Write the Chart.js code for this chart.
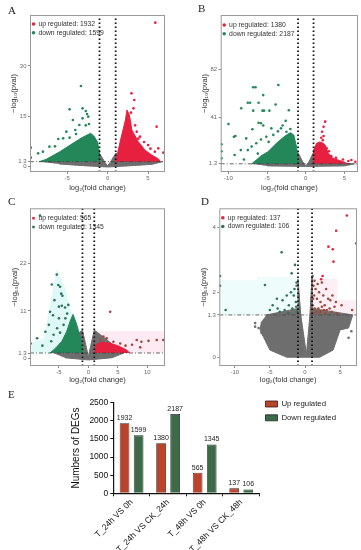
<!DOCTYPE html>
<html>
<head>
<meta charset="utf-8">
<script src="https://cdn.jsdelivr.net/npm/chart.js@4.4.0/dist/chart.umd.min.js"></script>
<style>
  body { margin: 0; background: #fff; }
  #wrap { position: relative; width: 361px; height: 550px; overflow: hidden; }
  canvas { position: absolute; }
  .tag { position: absolute; font: 11px/11px "Liberation Serif", "DejaVu Serif", serif; color: #222; }
</style>
</head>
<body>
<div id="wrap">
  <canvas id="cA" width="178" height="195" style="left:0;top:0"></canvas>
  <canvas id="cB" width="181" height="195" style="left:180px;top:0"></canvas>
  <canvas id="cC" width="178" height="195" style="left:0;top:195px"></canvas>
  <canvas id="cD" width="181" height="195" style="left:180px;top:195px"></canvas>
  <canvas id="cE" width="361" height="165" style="left:0;top:385px"></canvas>
  <div class="tag" style="left:8px;top:5px">A</div>
  <div class="tag" style="left:198px;top:3px">B</div>
  <div class="tag" style="left:8px;top:196px">C</div>
  <div class="tag" style="left:201px;top:196px">D</div>
  <div class="tag" style="left:8px;top:389px">E</div>
</div>
<script>
// counts of DEGs per comparison (A..D and panel E)
const comparisons = ['T_24h VS 0h', 'T_24h VS CK_24h', 'T_48h VS 0h', 'T_48h VS CK_48h'];
const upCounts = [1932, 1380, 565, 137];
const downCounts = [1599, 2187, 1345, 106];
const eTicks = [0, 500, 1000, 1500, 2000, 2500];

// cut-offs: |log2FC| = 1, p = 0.05
const fcCut = [-1, 1];
const pCut = 1.3;

// --- panel A [log2FC, -log10 p]
const aXTicks = [-5, 0, 5];
const aYTicks = [0, 1.3, 15, 30];
const aUpDots = [[5.9, 43], [2.95, 21.8], [3.3, 19.8], [3.2, 17.3], [2.9, 16], [6.06, 11.8], [3.6, 10.3], [4.0, 8.8],
  [3.4, 12.2], [4.5, 7.2], [5.0, 6.3], [5.85, 4.3], [6.26, 5.3], [6.9, 4], [5.3, 5.2], [4.2, 5.6], [3.8, 8.2]];
const aDownDots = [[-3.3, 24], [-4.7, 17], [-3.1, 17.3], [-2.7, 16.5], [-2.55, 15.6], [-2.4, 14.8], [-3.1, 14.3], [-4.3, 13.8],
  [-3.5, 12.3], [-2.7, 12.2], [-2.3, 12.6], [-5.1, 10.3], [-6.1, 8.1], [-5.5, 8.3], [-7.2, 5.8], [-6.5, 5.9], [-8.6, 3.8],
  [-8.0, 4.3], [-9.5, 5.5], [-9.5, 2.5], [-4.0, 10.8], [-4.7, 8.5], [-3.9, 9.6]];
const aUpCloud = [[1.0, 1.3], [1.06, 2], [1.6, 7.8], [2.2, 13.8], [2.4, 16.8], [2.7, 15.3], [3.0, 10.8], [3.8, 7.3],
  [4.6, 4.8], [5.45, 3.3], [6.3, 2.1], [6.5, 1.3]];
const aDownCloud = [[-8.4, 1.3], [-7.6, 2.0], [-5.9, 4.3], [-4.3, 6.8], [-3.1, 8.6], [-2.1, 9.8], [-1.7, 9], [-1.26, 7.3],
  [-1.06, 4.8], [-1.0, 1.3]];
const aGrayCloud = [[-8.5, 1.3], [-1.0, 3.8], [-0.3, 1.0], [0, 0.1], [0.3, 1.0], [1.0, 3.8], [6.8, 1.3], [5.5, 0.5],
  [3, 0.1], [0, -0.3], [-3, 0.1], [-6, 0.6]];

// --- panel B
const bXTicks = [-10, -5, 0, 5];
const bYTicks = [1.3, 41, 82];
const bUpDots = [[2.5, 37.3], [2.3, 33], [2.1, 28.7], [2.3, 25], [2.0, 23.5], [2.7, 14.5], [3.3, 8], [4.8, 5], [5.5, 3.7],
  [5.9, 4.5], [6.4, 3], [3.0, 12], [2.2, 21.5], [3.9, 6.5]];
const bDownDots = [[-3.55, 68.6], [-6.8, 66.7], [-6.5, 66.7], [-5.5, 60], [-7.5, 53.5], [-7.2, 53.5], [-6.1, 53.5],
  [-8.35, 48.7], [-3.9, 52], [-6.8, 46.7], [-5.6, 46.7], [-5.4, 46.7], [-4.7, 46.7], [-2.2, 47], [-10, 35.3], [-6.1, 36.4],
  [-5.8, 36], [-9.3, 24.4], [-9.1, 25], [-6.9, 30.8], [-7.7, 23], [-7.5, 13], [-9.2, 8.8], [-8.4, 13], [-8.0, 5],
  [-6.4, 18.8], [-5.1, 24.4], [-4.45, 31.6], [-3.2, 31.6], [-2.5, 28.7], [-2.0, 31], [-5.5, 34], [-10.9, 6], [-10.9, 12],
  [-10.9, 18], [-4.2, 26], [-3.6, 29], [-5.8, 22], [-7.0, 16], [-4.8, 20], [-6.2, 10], [-2.6, 38], [-3.0, 34]];
const bUpCloud = [[1.0, 1.3], [1.0, 13], [1.4, 18.8], [1.8, 20], [2.2, 19], [2.5, 17.4], [2.9, 10.3], [3.5, 6],
  [4.85, 3.1], [5.4, 1.3]];
const bDownCloud = [[-7.0, 1.3], [-6.4, 4.5], [-5.8, 8], [-4.9, 11.6], [-3.8, 18.8], [-2.7, 25], [-2.0, 27.9],
  [-1.56, 26], [-1.2, 16], [-1.0, 4], [-1.0, 1.3]];
const bGrayCloud = [[-7, 1.3], [-3, 2.5], [-1.0, 11], [-0.4, 3], [0, -0.5], [0.4, 3], [1.0, 11], [3, 2.5], [6.3, 1.3],
  [5, -0.5], [0, -0.9], [-5, -0.5]];

// --- panel C
const cXTicks = [-5, 0, 5, 10];
const cYTicks = [0, 1.3, 11, 22];
const cUpDots = [[3.7, 10.8], [2.55, 5.1], [3.1, 4.7], [4.25, 3.9], [5.4, 3.5], [7.4, 3.2], [8.2, 4.3], [9.0, 3.9],
  [10.2, 4.1], [11.6, 4.3], [12.7, 4.3], [6.3, 3.0], [2.0, 4.4], [8.8, 2.6]];
const cDownDots = [[-8.2, 33], [-5.36, 19.4], [-6.2, 17.1], [-5.1, 17], [-4.8, 16.6], [-4.6, 15], [-5.76, 13.5],
  [-4.4, 14.5], [-5.0, 12], [-4.5, 12.2], [-3.95, 11.8], [-6.5, 10.8], [-6.0, 10], [-5.0, 9.3], [-3.9, 9.3], [-3.6, 10.4],
  [-4.2, 7.8], [-6.7, 7.8], [-7.3, 6.2], [-5.9, 5.5], [-8.7, 4.7], [-9.8, 3.5], [-3.4, 12.4], [-5.3, 7], [-4.8, 6],
  [-7.8, 3], [-6.3, 4]];
const cUpCloud = [[1.1, 1.3], [1.2, 3], [2, 3.8], [3.5, 3.6], [5, 3], [6.5, 2], [7, 1.3]];
const cDownCloud = [[-6.5, 1.3], [-5.5, 2.5], [-4.5, 4], [-3.7, 6.2], [-3.0, 9], [-2.6, 10.2], [-2.0, 8], [-1.4, 5],
  [-1.0, 2.8], [-1.0, 1.3]];
const cGrayCloud = [[-6, 1.3], [-1.0, 6.6], [0, 0.5], [1.0, 6.6], [6, 1.3], [4, 0.2], [0, -0.3], [-4, 0.2]];
const cCyan = [[-9.9, 1.3], [-9.9, 3.5], [-7.5, 4.5], [-6.2, 14], [-5.3, 20.5], [-4.2, 17], [-3, 11], [-1.2, 5], [-1.0, 1.3]];
const cPink = [[1.1, 1.3], [1.1, 6.2], [13, 6.2], [13, 1.3]];

// --- panel D
const dXTicks = [-10, -5, 0, 5];
const dYTicks = [0, 1.3, 2, 4];
const dUpDots = [[4.43, 3.89], [3.33, 3.4], [3.95, 3.32], [4.05, 2.94], [2.5, 2.5], [5.95, 4.36], [2.3, 2.4], [7.3, 3.5]];
const dUpDense = [[1.2, 2.2], [1.5, 2.1], [1.3, 1.9], [1.7, 1.8], [2.0, 2.0], [2.2, 1.7], [1.1, 1.6], [1.4, 1.5], [1.9, 1.5],
  [2.4, 1.55], [2.8, 1.6], [3.1, 1.45], [3.5, 1.5], [2.6, 1.9], [3.0, 2.1], [3.3, 1.8], [1.6, 1.4], [2.1, 1.38], [2.9, 1.35],
  [3.8, 1.4], [4.2, 1.55], [1.2, 1.35], [1.8, 2.25], [2.4, 2.3], [3.6, 1.75], [4.5, 1.35], [5.2, 1.6], [6.7, 1.45],
  [1.0, 1.45], [1.35, 2.35], [2.7, 1.45], [3.9, 1.9], [4.4, 1.7], [1.15, 1.8], [2.3, 1.42]];
const dDownDots = [[-3.33, 3.23], [-1.43, 2.84], [-1.9, 2.58], [-5.7, 2.22], [-1.2, 2.3], [-1.5, 2.1], [-2.0, 2.0],
  [-2.6, 1.9], [-3.2, 1.75], [-4.0, 1.8], [-4.6, 1.6], [-1.3, 1.7], [-1.8, 1.5], [-2.3, 1.6], [-2.9, 1.45], [-3.6, 1.4],
  [-1.1, 1.4], [-1.6, 1.9], [-2.4, 1.35], [-5.0, 1.45], [-1.25, 1.55], [-3.9, 1.5], [-11.3, 1.45], [-12.1, 2.2], [-12.1, 2.5]];
const dGrayDots = [[-7.1, 1.05], [-6.6, 0.9], [-6.2, 0.75], [-5.95, 0.69], [-7.1, 0.94], [-1.2, 2.2], [1.1, 2.5],
  [-0.9, 1.9], [0.9, 1.8], [6.6, 0.8], [6.2, 0.6], [-5.8, 1.1]];
const dGrayCloud = [[-5.5, 1.3], [-1.0, 1.5], [-1.0, 2.4], [-0.6, 1.3], [0.2, 0.1], [0.7, 1.3], [1.0, 2.5], [1.0, 1.5],
  [6.8, 1.3], [6.2, 0.9], [5, 0.84], [4, 0.22], [2.1, 0.0], [-2.6, 0.0], [-5, 0.22], [-6.4, 0.84], [-6.2, 1.1]];
const dCyan = [[-12.2, 1.3], [-12.2, 2.35], [-6.8, 2.35], [-6.8, 2.45], [-0.9, 2.45], [-0.9, 1.3]];
const dPink = [[0.9, 1.3], [0.9, 2.4], [4.5, 2.4], [4.5, 1.75], [7.4, 1.75], [7.4, 1.3]];

const FONT = '"Liberation Sans", Arial, sans-serif';
const RED = '#e8203f', GREEN = '#23875a', GRAY = '#6e6e6e';

function pts(list) { return list.map(p => ({ x: p[0], y: p[1] })); }

function shape(list, color, order) {
  return { label: '', data: pts(list), showLine: true, fill: 'shape', backgroundColor: color, borderColor: color,
    borderWidth: 1, pointRadius: 0, order: order };
}
function dots(label, list, color, order) {
  return { label: label, data: pts(list), backgroundColor: color, borderColor: color, pointRadius: 1.3,
    pointBorderWidth: 0, pointHoverRadius: 0, order: order };
}
function cutLine(data, dash, width, color) {
  return { label: '', data: data, showLine: true, borderColor: color, borderWidth: width, borderDash: dash,
    pointRadius: 0, fill: false, order: -2 };
}

// thin grey frame round the plot area
const frame = {
  id: 'frame',
  afterDatasetsDraw(chart) {
    const a = chart.chartArea, c = chart.ctx;
    c.save();
    c.strokeStyle = '#9a9a9a';
    c.lineWidth = 1;
    c.strokeRect(a.left + 0.5, a.top + 0.5, a.width - 1, a.height - 1);
    c.restore();
  }
};

function volcano(id, p) {
  const sets = [
    dots('up regulated: ' + p.up, p.upDots, p.upColor || RED, 0),
    dots('down regulated: ' + p.down, p.downDots, p.downColor || GREEN, 1),
    dots('', p.extraUp || [], '#9c4a3a', 2),
    shape(p.upCloud, RED, 3),
    shape(p.downCloud, GREEN, 4),
    dots('', p.grayDots || [], GRAY, 5),
    shape(p.grayCloud, GRAY, 6),
    cutLine([{ x: fcCut[0], y: p.yMin }, { x: fcCut[0], y: p.yMax }], [1.6, 2.4], 1.8, '#111'),
    cutLine([{ x: fcCut[1], y: p.yMin }, { x: fcCut[1], y: p.yMax }], [1.6, 2.4], 1.8, '#111'),
    cutLine([{ x: p.xMin, y: pCut }, { x: p.xMax, y: pCut }], [4, 2, 1, 2], 0.8, '#444')
  ];
  (p.shades || []).forEach(s => sets.push(shape(s[0], s[1], 9)));

  new Chart(document.getElementById(id), {
    type: 'scatter',
    data: { datasets: sets },
    options: {
      responsive: false, animation: false, events: [], devicePixelRatio: 1,
      layout: { padding: p.pad },
      plugins: {
        tooltip: { enabled: false },
        legend: {
          position: 'chartArea', align: 'start',
          // empty title only pushes the two entries down inside the frame
          title: { display: true, text: '', padding: { top: p.legendDrop, bottom: 0 }, font: { size: 3 } },
          labels: {
            usePointStyle: true, pointStyle: p.mark, boxWidth: 3, boxHeight: 2.5, padding: 2, color: '#333',
            font: { size: 6.8, family: FONT },
            filter: item => item.text !== ''
          }
        }
      },
      scales: {
        x: {
          type: 'linear', min: p.xMin, max: p.xMax,
          afterBuildTicks: s => { s.ticks = p.xTicks.map(v => ({ value: v })); },
          afterFit: s => { s.height = p.xHeight; },
          ticks: { color: '#666', font: { size: 6, family: FONT }, padding: p.xTickPad, maxRotation: 0, callback: v => String(v) },
          grid: { drawOnChartArea: false, tickLength: 2, color: '#888' },
          border: { display: false },
          title: { display: true, text: 'log₂(fold change)', color: '#333', font: { size: 7.5, family: FONT },
            padding: { top: 0, bottom: p.xTitlePad } }
        },
        y: {
          type: 'linear', min: p.yMin, max: p.yMax,
          afterBuildTicks: s => { s.ticks = p.yTicks.map(v => ({ value: v })); },
          afterFit: s => { s.width = p.yWidth; },
          ticks: { color: '#666', font: { size: 6, family: FONT }, padding: 1.5, callback: v => String(v) },
          grid: { drawOnChartArea: false, tickLength: 2, color: '#888' },
          border: { display: false },
          title: { display: true, text: '−log₁₀(pval)', color: '#333', font: { size: 7.5, family: FONT },
            padding: { top: p.yTitlePad, bottom: 0 } }
        }
      }
    },
    plugins: [frame]
  });
}

volcano('cA', {
  up: upCounts[0], down: downCounts[0], upDots: aUpDots, downDots: aDownDots, upCloud: aUpCloud, downCloud: aDownCloud,
  grayCloud: aGrayCloud, xMin: -9.6, xMax: 7.1, yMin: -1.8, yMax: 45.3, xTicks: aXTicks, yTicks: aYTicks, mark: 'circle',
  pad: { left: 0, top: 15, right: 13, bottom: 0 }, yWidth: 30, yTitlePad: 9, xHeight: 23, xTitlePad: 2.5, xTickPad: 1,
  legendDrop: 15
});
volcano('cB', {
  up: upCounts[1], down: downCounts[1], upDots: bUpDots, downDots: bDownDots, upCloud: bUpCloud, downCloud: bDownCloud,
  grayCloud: bGrayCloud, xMin: -11, xMax: 6.75, yMin: -5.7, yMax: 128.4, xTicks: bXTicks, yTicks: bYTicks, mark: 'circle',
  pad: { left: 16, top: 15, right: 3, bottom: 0 }, yWidth: 24.7, yTitlePad: 4.2, xHeight: 23, xTitlePad: 2.5, xTickPad: 1,
  legendDrop: 16
});
volcano('cC', {
  up: upCounts[2], down: downCounts[2], upDots: [], extraUp: cUpDots, downDots: cDownDots, downColor: '#2f7457',
  upCloud: cUpCloud, downCloud: cDownCloud, grayCloud: cGrayCloud, shades: [[cCyan, '#dff9f8'], [cPink, '#fdeaf2']],
  xMin: -9.9, xMax: 13, yMin: -1.7, yMax: 34.7, xTicks: cXTicks, yTicks: cYTicks, mark: 'rect',
  pad: { left: 0, top: 13.3, right: 13, bottom: 0 }, yWidth: 30, yTitlePad: 10.8, xHeight: 24, xTitlePad: 5.5, xTickPad: 0.7,
  legendDrop: 14.3
});
volcano('cD', {
  up: upCounts[3], down: downCounts[3], upDots: dUpDots, extraUp: dUpDense, downDots: dDownDots, downColor: '#2f7457',
  upCloud: [], downCloud: [], grayDots: dGrayDots, grayCloud: dGrayCloud, shades: [[dCyan, '#eefcfc'], [dPink, '#fdeff5']],
  xMin: -12.2, xMax: 7.4, yMin: -0.27, yMax: 4.58, xTicks: dXTicks, yTicks: dYTicks, mark: 'circle',
  pad: { left: 16, top: 13.3, right: 4, bottom: 0 }, yWidth: 23.3, yTitlePad: 3.5, xHeight: 24, xTitlePad: 5.5, xTickPad: 0.7,
  legendDrop: 13.7
});

// numbers above the bars
const barValues = {
  id: 'barValues',
  afterDatasetsDraw(chart) {
    const c = chart.ctx;
    c.save();
    c.font = '7px ' + FONT;
    c.fillStyle = '#222';
    c.textAlign = 'center';
    c.textBaseline = 'bottom';
    chart.data.datasets.forEach((ds, i) => {
      chart.getDatasetMeta(i).data.forEach((bar, j) => c.fillText(String(ds.data[j]), bar.x, bar.y - 1.5));
    });
    c.restore();
  }
};

new Chart(document.getElementById('cE'), {
  type: 'bar',
  data: {
    labels: comparisons,
    datasets: [
      { label: 'Up regulated', data: upCounts, backgroundColor: '#b9432b', borderColor: '#3a1a10', borderWidth: 0.8,
        categoryPercentage: 0.77, barPercentage: 0.69 },
      { label: 'Down regulated', data: downCounts, backgroundColor: '#3d6b47', borderColor: '#16261a', borderWidth: 0.8,
        categoryPercentage: 0.77, barPercentage: 0.69 }
    ]
  },
  options: {
    responsive: false, animation: false, events: [], devicePixelRatio: 1,
    layout: { padding: { left: 70, top: 9.1, right: 15, bottom: 0 } },
    plugins: {
      tooltip: { enabled: false },
      legend: {
        position: 'right', align: 'start', maxWidth: 120,
        labels: { boxWidth: 12, boxHeight: 6, padding: 6, color: '#222', font: { size: 7.8, family: FONT } }
      }
    },
    scales: {
      x: {
        afterFit: s => { s.height = 56.7; },
        ticks: { color: '#111', font: { size: 8.5, family: FONT }, minRotation: 45, maxRotation: 45, autoSkip: false, padding: 1 },
        grid: { drawOnChartArea: false, tickLength: 3, color: '#111', lineWidth: 1 },
        border: { color: '#111', width: 1.2 }
      },
      y: {
        min: 0, max: 2500,
        afterBuildTicks: s => { s.ticks = eTicks.map(v => ({ value: v })); },
        afterFit: s => { s.width = 43.3; s.paddingTop = 17.7; },
        ticks: { color: '#111', font: { size: 8.5, family: FONT }, padding: 2, callback: v => String(v) },
        grid: { drawOnChartArea: false, tickLength: 3, color: '#111', lineWidth: 1 },
        border: { color: '#111', width: 1.2 },
        title: { display: true, text: 'Numbers of DEGs', color: '#111', font: { size: 10, family: FONT },
          padding: { top: 0.7, bottom: 0 } }
      }
    }
  },
  plugins: [barValues]
});
</script>
</body>
</html>
